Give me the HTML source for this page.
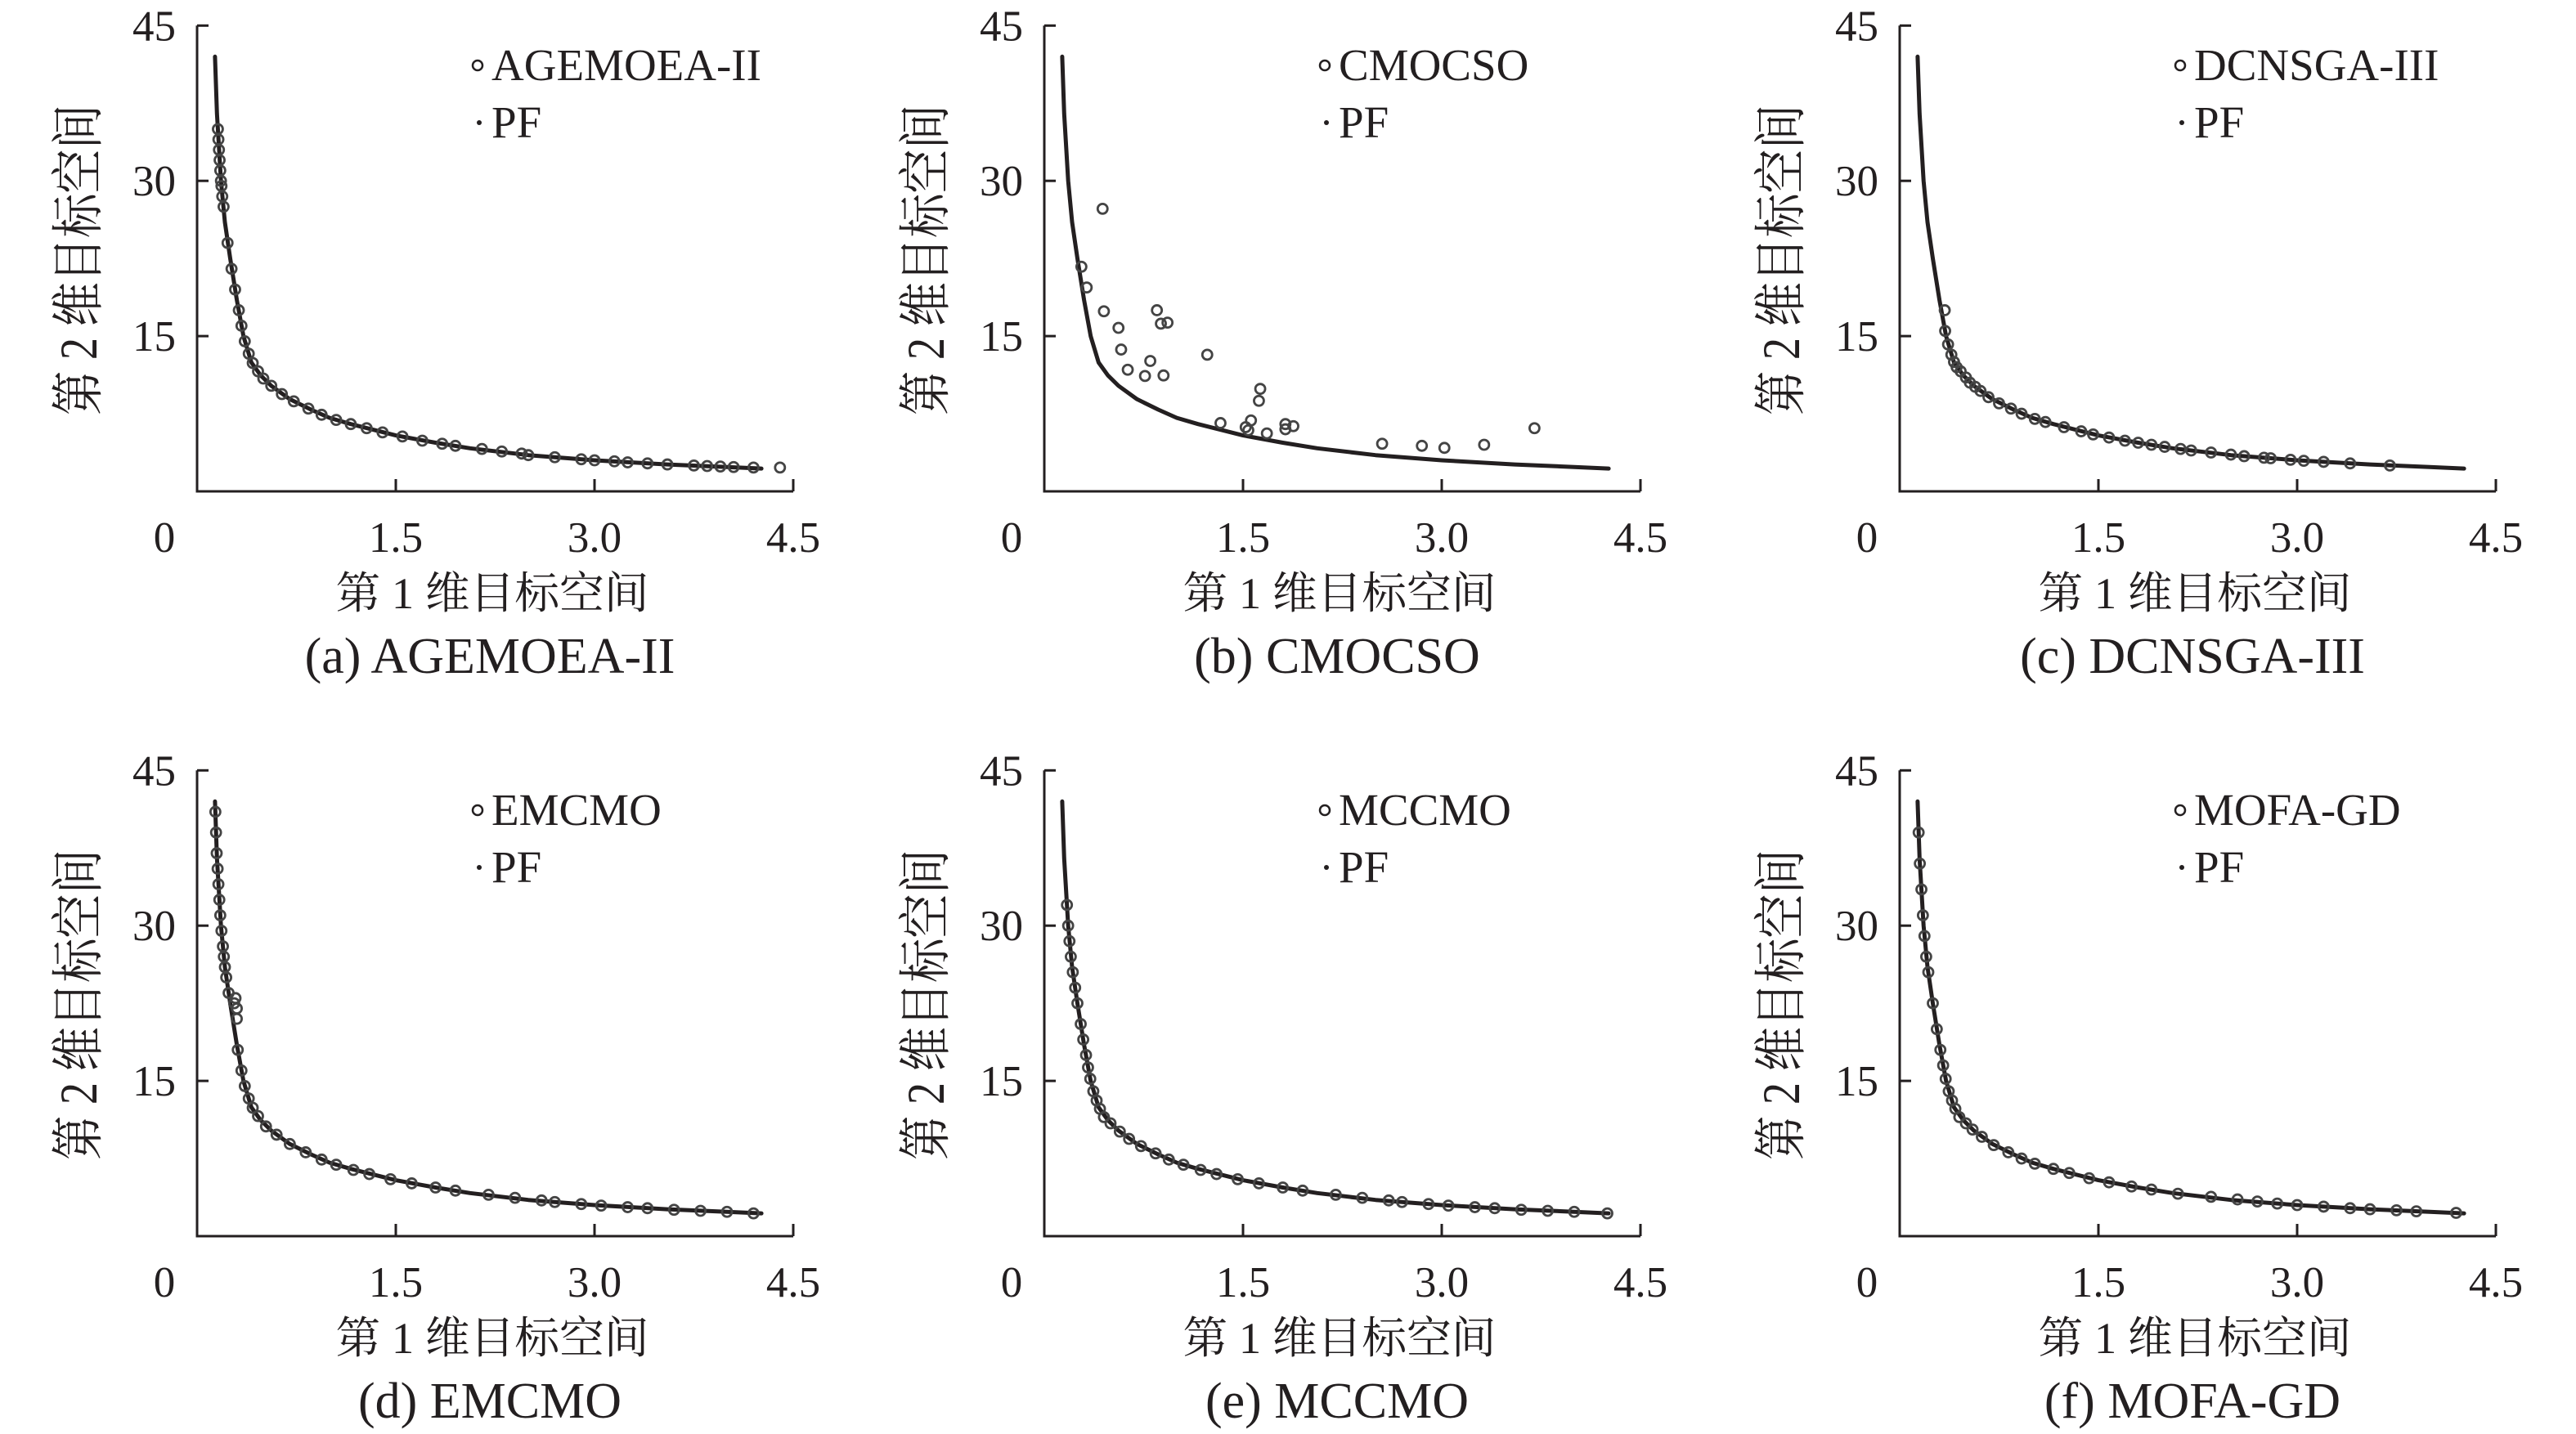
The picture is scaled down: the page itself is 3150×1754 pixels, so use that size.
<!DOCTYPE html>
<html><head><meta charset="utf-8"><style>
html,body{margin:0;padding:0;background:#fff;}
svg{display:block;}
text{fill:#231f20;}
</style></head><body>
<svg id="fig" width="3150" height="1754" viewBox="0 0 3150 1754" xmlns="http://www.w3.org/2000/svg"></svg>
<script>
// Pareto front (PF) reference curve
const pfX = [0.135,0.15,0.18,0.21,0.25,0.30,0.35,0.41,0.48,0.56,0.70,0.86,1.0,1.16,1.5,1.8,2.06,2.5,3.0,3.55,4.0,4.26];
const pfY = [42.0,36.5,30.0,26.0,22.5,18.5,15.0,12.45,11.2,10.2,8.9,7.9,7.1,6.5,5.4,4.7,4.16,3.5,3.0,2.6,2.35,2.2];
// (a) AGEMOEA-II
const aX = [0.157,0.161,0.165,0.17,0.175,0.18,0.184,0.19,0.2,0.23,0.26,0.287,0.315,0.335,0.36,0.39,0.42,0.46,0.5,0.56,0.64,0.73,0.84,0.94,1.05,1.16,1.28,1.4,1.55,1.7,1.85,1.95,2.15,2.3,2.45,2.5,2.7,2.9,3.0,3.15,3.25,3.4,3.55,3.75,3.85,3.95,4.05,4.2,4.4];
const aY = [35,34,33,32,31,30,29.5,28.5,27.5,24,21.5,19.5,17.5,16,14.5,13.3,12.4,11.6,10.9,10.2,9.4,8.7,8.0,7.4,6.9,6.5,6.1,5.7,5.3,4.9,4.6,4.4,4.1,3.85,3.65,3.5,3.3,3.1,3.0,2.9,2.8,2.7,2.6,2.5,2.45,2.4,2.35,2.3,2.3];
// (b) CMOCSO
const bX = [0.44,0.28,0.32,0.45,0.56,0.58,0.63,0.76,0.80,0.90,0.85,0.88,0.93,1.23,1.33,1.52,1.54,1.56,1.63,1.62,1.68,1.82,1.82,1.88,2.55,2.85,3.02,3.32,3.70];
const bY = [27.3,21.7,19.7,17.4,15.8,13.7,11.75,11.15,12.6,11.2,17.5,16.2,16.3,13.2,6.6,6.2,5.9,6.85,9.9,8.75,5.6,6.5,6.0,6.3,4.6,4.4,4.2,4.5,6.1];
// (c) DCNSGA-III
const cX = [0.34,0.343,0.365,0.39,0.41,0.43,0.46,0.5,0.53,0.57,0.61,0.67,0.75,0.84,0.92,1.02,1.1,1.24,1.37,1.46,1.58,1.7,1.8,1.9,2.0,2.12,2.2,2.35,2.5,2.6,2.75,2.8,2.95,3.05,3.2,3.4,3.7];
const cY = [17.5,15.5,14.2,13.2,12.5,12.0,11.6,11.0,10.5,10.1,9.7,9.1,8.5,8.0,7.5,7.0,6.7,6.2,5.8,5.5,5.2,4.9,4.7,4.5,4.3,4.1,3.95,3.75,3.55,3.4,3.25,3.2,3.05,2.95,2.85,2.7,2.5];
// (d) EMCMO
const dX = [0.138,0.143,0.148,0.155,0.161,0.168,0.175,0.184,0.195,0.202,0.21,0.22,0.238,0.28,0.29,0.30,0.30,0.307,0.335,0.36,0.39,0.42,0.46,0.52,0.6,0.7,0.82,0.94,1.05,1.18,1.3,1.46,1.62,1.8,1.95,2.2,2.4,2.6,2.7,2.9,3.05,3.25,3.4,3.6,3.8,4.0,4.2];
const dY = [41,39,37,35.5,34,32.5,31,29.5,28,27,26,25,23.5,22.5,23,22,21,18,16,14.5,13.3,12.4,11.6,10.6,9.8,8.9,8.1,7.4,6.9,6.4,6.0,5.5,5.1,4.7,4.4,4.0,3.7,3.45,3.3,3.1,2.95,2.8,2.7,2.55,2.45,2.35,2.2];
// (e) MCCMO
const eX = [0.171,0.18,0.19,0.20,0.215,0.233,0.25,0.275,0.294,0.315,0.33,0.347,0.37,0.395,0.42,0.45,0.5,0.57,0.64,0.73,0.84,0.94,1.05,1.18,1.3,1.46,1.62,1.8,1.95,2.2,2.4,2.6,2.7,2.9,3.05,3.25,3.4,3.6,3.8,4.0,4.25];
const eY = [32,30,28.5,27,25.5,24,22.5,20.5,19,17.5,16.3,15.2,14,13.1,12.3,11.5,10.9,10.1,9.4,8.7,8.0,7.4,6.9,6.4,6.0,5.5,5.1,4.7,4.4,4.0,3.7,3.45,3.3,3.1,2.95,2.8,2.7,2.55,2.45,2.35,2.2];
// (f) MOFA-GD
const fX = [0.143,0.152,0.164,0.175,0.187,0.20,0.216,0.25,0.28,0.307,0.328,0.347,0.37,0.395,0.42,0.45,0.5,0.55,0.62,0.71,0.82,0.92,1.02,1.16,1.28,1.43,1.58,1.75,1.9,2.1,2.35,2.55,2.7,2.85,3.0,3.2,3.4,3.55,3.75,3.9,4.2];
const fY = [39,36,33.5,31,29,27,25.5,22.5,20,18,16.5,15.2,14,13.1,12.3,11.5,10.9,10.3,9.6,8.8,8.1,7.5,7.0,6.5,6.1,5.6,5.2,4.8,4.5,4.1,3.8,3.55,3.35,3.15,3.0,2.85,2.7,2.6,2.5,2.4,2.25];
const xTickVals = [1.5,3.0,4.5];
const xTickLabels = ["1.5","3.0","4.5"];
const yTickVals = [15,30,45];
const yTickLabels = ["15","30","45"];
const panelNames = ["AGEMOEA-II","CMOCSO","DCNSGA-III","EMCMO","MCCMO","MOFA-GD"];
const panelLetters = ["a","b","c","d","e","f"];
const panelXs = [aX,bX,cX,dX,eX,fX];
const panelYs = [aY,bY,cY,dY,eY,fY];

const NS = "http://www.w3.org/2000/svg";
const svg = document.getElementById("fig");
const colX = [241,1277,2323];
const rowY = [601,1512];
const PXX = 162, PXY = 12.66;
const SERIF = '"Liberation Serif","Noto Serif CJK SC",serif';
function mk(tag, attrs, parent){
  const e = document.createElementNS(NS, tag);
  for (const k in attrs) e.setAttribute(k, attrs[k]);
  parent.appendChild(e);
  return e;
}
for (let p = 0; p < 6; p++) {
  const ox = colX[p % 3], oy = rowY[Math.floor(p / 3)];
  const sx = v => ox + v * PXX;
  const sy = v => oy - v * PXY;
  const g = mk("g", {}, svg);
  
  
  const ax = mk("path", {d:`M${sx(0)},${sy(45)} L${sx(0)},${sy(0)} L${sx(4.5)},${sy(0)}`, fill:"none", stroke:"#231f20", "stroke-width":3}, g);
  
  
  xTickVals.forEach((v, i) => {
    const t = mk("line", {x1:sx(v), x2:sx(v), y1:sy(0), y2:sy(0)-15, stroke:"#231f20", "stroke-width":3}, g);
    
    
    const l = mk("text", {x:sx(v), y:sy(0)+74, "text-anchor":"middle", "font-family":SERIF, "font-size":53}, g);
    l.textContent = xTickLabels[i];
    
    
  });
  const z = mk("text", {x:sx(0)-40, y:sy(0)+74, "text-anchor":"middle", "font-family":SERIF, "font-size":53}, g);
  z.textContent = "0";
  
  
  yTickVals.forEach((v, i) => {
    const t = mk("line", {x1:sx(0), x2:sx(0)+14, y1:sy(v), y2:sy(v), stroke:"#231f20", "stroke-width":3}, g);
    
    
    const l = mk("text", {x:sx(0)-26, y:sy(v)+18, "text-anchor":"end", "font-family":SERIF, "font-size":53}, g);
    l.textContent = yTickLabels[i];
    
    
  });
  const xt = mk("text", {x:ox+361, y:oy+143, "text-anchor":"middle", "font-family":SERIF, "font-size":54, textLength:383, lengthAdjust:"spacingAndGlyphs"}, g);
  xt.textContent = "第 1 维目标空间";
  
  
  const yt = mk("text", {x:0, y:0, "text-anchor":"middle", "font-family":SERIF, "font-size":54, textLength:380, lengthAdjust:"spacingAndGlyphs",
    transform:`translate(${ox-123},${oy-283}) scale(1.2,1) rotate(-90)`}, g);
  yt.textContent = "第 2 维目标空间";
  
  
  const cap = mk("text", {x:ox+358, y:oy+222, "text-anchor":"middle", "font-family":SERIF, "font-size":62}, g);
  cap.textContent = "(" + panelLetters[p] + ") " + panelNames[p];
  
  
  const lc = mk("circle", {cx:ox+343, cy:oy-521, r:6, fill:"none", stroke:"#231f20", "stroke-width":2.5}, g);
  
  
  const lt = mk("text", {x:ox+360, y:oy-503, "font-family":SERIF, "font-size":55}, g);
  lt.textContent = panelNames[p];
  
  
  const ld = mk("circle", {cx:ox+345, cy:oy-451, r:3, fill:"#231f20"}, g);
  
  
  const lt2 = mk("text", {x:ox+360, y:oy-433, "font-family":SERIF, "font-size":55}, g);
  lt2.textContent = "PF";
  
  
  let d = "";
  pfX.forEach((v, i) => { d += (i ? " L" : "M") + sx(v).toFixed(1) + "," + sy(pfY[i]).toFixed(1); });
  const pf = mk("path", {d:d, fill:"none", stroke:"#231f20", "stroke-width":5, "stroke-linejoin":"round", "stroke-linecap":"round"}, g);
  
  
  const xs = panelXs[p], ys = panelYs[p];
  xs.forEach((v, i) => {
    const c = mk("circle", {cx:sx(v), cy:sy(ys[i]), r:6, fill:"none", stroke:"#444", "stroke-width":2.8}, g);
    
    
  });
}
</script>
</body></html>
